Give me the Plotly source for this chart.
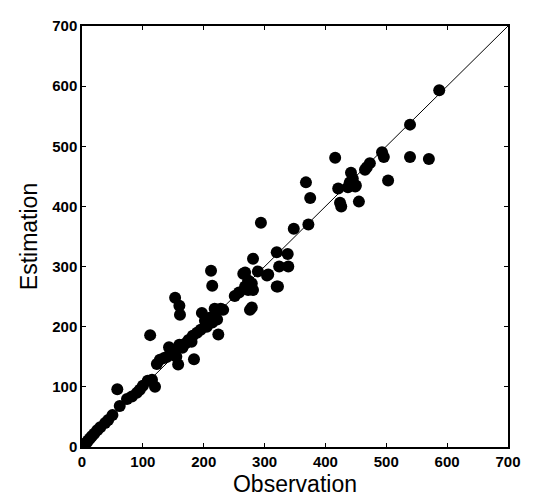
import plotly.graph_objects as go

observation = [
    2, 5, 8, 10, 13, 16, 20, 25, 30, 38, 43, 50, 58, 62, 74, 82, 90, 95, 100,
    108, 115, 120, 112, 123, 128, 135, 140, 143, 148, 150, 155, 158, 160, 165,
    170, 175, 180, 184, 182, 189, 195, 197, 202, 205, 210, 212, 214, 214, 218,
    222, 222, 224, 228, 232, 153, 160, 161,
    251, 258, 265, 268, 268, 273, 273, 276, 279, 279, 281, 281, 289, 294, 304,
    306, 320, 320, 322, 324, 338, 339, 348, 368, 372, 375,
    416, 421, 424, 426, 437, 440, 442, 445, 449, 450, 455, 465, 468, 473, 493,
    496, 503, 539, 539, 570, 587,
]
estimation = [
    2, 5, 8, 11, 14, 18, 22, 28, 33, 40, 45, 53, 96, 68, 80, 84, 90, 95, 102,
    110, 112, 100, 186, 138, 145, 148, 150, 166, 160, 155, 150, 137, 170, 165,
    172, 178, 175, 146, 185, 190, 195, 223, 210, 200, 215, 293, 268, 207, 230,
    228, 212, 187, 230, 228, 248, 235, 220,
    251, 257, 288, 290, 267, 277, 261, 228, 272, 232, 261, 313, 292, 373, 285,
    287, 324, 267, 267, 300, 321, 300, 363, 440, 370, 414,
    481, 430, 406, 400, 432, 440, 456, 446, 433, 435, 408, 461, 465, 472, 490,
    482, 443, 536, 482, 479, 593,
]
diag = [0, 700]
tick_vals = [0, 100, 200, 300, 400, 500, 600, 700]

fig = go.Figure()
fig.add_trace(
    go.Scatter(
        x=diag,
        y=diag,
        mode="lines",
        line={"color": "black", "width": 1},
        hoverinfo="skip",
        showlegend=False,
    )
)
fig.add_trace(
    go.Scatter(
        x=observation,
        y=estimation,
        mode="markers",
        marker={"size": 12, "color": "black"},
        showlegend=False,
    )
)

axis_style = dict(
    range=[0, 700],
    tickvals=tick_vals,
    ticks="inside",
    ticklen=4,
    tickcolor="black",
    showline=True,
    linecolor="black",
    linewidth=1.5,
    mirror="ticks",
    showgrid=False,
    zeroline=False,
    tickfont={"family": "Liberation Sans", "size": 15, "color": "black", "weight": "bold"},
)
title_font = {"family": "Liberation Sans", "size": 23, "color": "black"}
fig.update_xaxes(title={"text": "Observation", "font": title_font, "standoff": 7}, **axis_style)
fig.update_yaxes(title={"text": "Estimation", "font": title_font, "standoff": 8}, **axis_style)
# page body adds an 8px offset, so the figure is a bit smaller than the window
fig.update_layout(
    width=528,
    height=495,
    plot_bgcolor="white",
    paper_bgcolor="white",
    margin={"l": 74, "r": 28, "t": 9, "b": 56},
)
fig.write_html("out.html")
